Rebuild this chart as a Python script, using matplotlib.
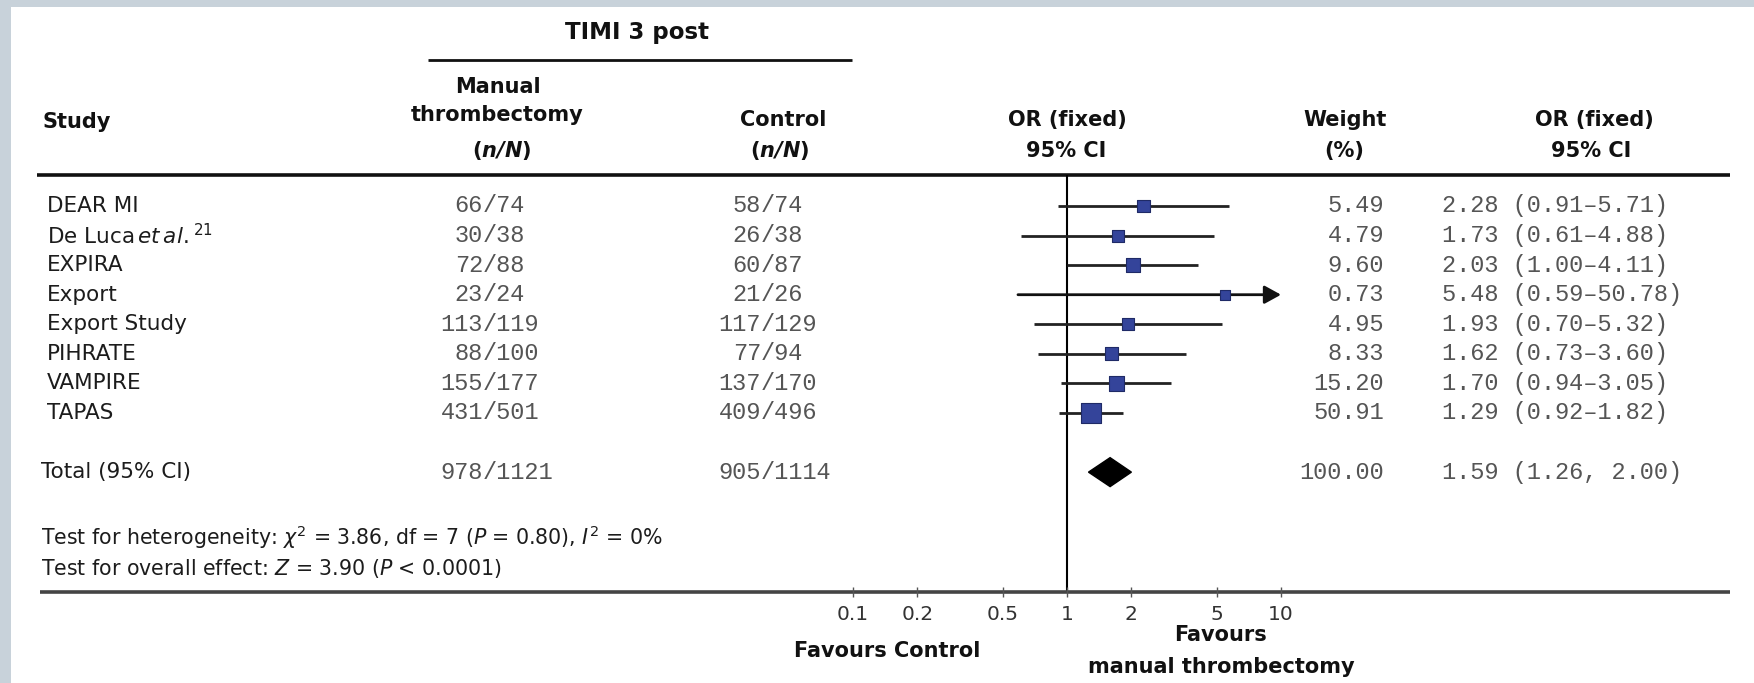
import matplotlib
matplotlib.use("Agg")
import matplotlib.pyplot as plt
from matplotlib import transforms
from matplotlib.patches import Rectangle
import numpy as np

plt.rcParams["font.family"] = ["DejaVu Sans"]
plt.rcParams["mathtext.fontset"] = "custom"
plt.rcParams["mathtext.rm"] = "DejaVu Sans"
plt.rcParams["mathtext.it"] = "DejaVu Sans:italic"
plt.rcParams["mathtext.bf"] = "DejaVu Sans:bold"
plt.rcParams["mathtext.bfit"] = "DejaVu Sans:italic:bold"

# data
studies = ["DEAR MI", r"De Luca$\,\it{et\,al.}^{21}$", "EXPIRA", "Export",
           "Export Study", "PIHRATE", "VAMPIRE", "TAPAS"]
manual_n = [66, 30, 72, 23, 113, 88, 155, 431]
manual_N = [74, 38, 88, 24, 119, 100, 177, 501]
control_n = [58, 26, 60, 21, 117, 77, 137, 409]
control_N = [74, 38, 87, 26, 129, 94, 170, 496]
weights = [5.49, 4.79, 9.60, 0.73, 4.95, 8.33, 15.20, 50.91]
or_est = [2.28, 1.73, 2.03, 5.48, 1.93, 1.62, 1.70, 1.29]
ci_lo = [0.91, 0.61, 1.00, 0.59, 0.70, 0.73, 0.94, 0.92]
ci_hi = [5.71, 4.88, 4.11, 50.78, 5.32, 3.60, 3.05, 1.82]

total_label = "Total (95% CI)"
total_manual = (978, 1121)
total_control = (905, 1114)
total_weight = 100.00
total_or, total_lo, total_hi = 1.59, 1.26, 2.00

ticks = [0.1, 0.2, 0.5, 1, 2, 5, 10]
tick_labels = ["0.1", "0.2", "0.5", "1", "2", "5", "10"]

# layout (pixels of the 1754x683 canvas)
W, H = 1754, 683
X_ONE, DECADE = 1067, 214          # pixel of OR = 1 and width of one decade
ROW0, ROWH = 206, 29.57            # first row centre and row pitch
X_MAX = 10

fig = plt.figure(figsize=(W / 100, H / 100), dpi=100)
fig.patch.set_facecolor("#c8d2da")
fig.patches.append(Rectangle((11 / W, 0), 1 - 11 / W, 1 - 7 / H, transform=fig.transFigure,
                             facecolor="white", edgecolor="none", zorder=-5))

ax = fig.add_axes([0, 0, 1, 1])
ax.set_facecolor("none")
ax.set_xscale("log")
ax.set_xlim(10 ** ((0 - X_ONE) / DECADE), 10 ** ((W - X_ONE) / DECADE))
ax.set_ylim((H - ROW0) / ROWH, (0 - ROW0) / ROWH)
ax.axis("off")

pix = transforms.Affine2D().scale(1 / W, -1 / H).translate(0, 1) + fig.transFigure
colx = ax.get_yaxis_transform()   # x in figure fraction, y in rows


def row_of(py):
    return (py - ROW0) / ROWH


SANS = dict(fontsize=15.5, color="#1c1c1c")
BOLD = dict(fontsize=15, fontweight="bold", color="#111")
MONO = dict(fontsize=17, family="Liberation Mono", color="#555")

# header
ax.text(637, 33, "TIMI 3 post", transform=pix, ha="center", va="center",
        fontsize=16.5, fontweight="bold", color="#111")
ax.plot([428, 852], [60, 60], transform=pix, color="#111", lw=2.0, solid_capstyle="butt")
ax.text(43, 122, "Study", transform=pix, ha="left", va="center", **BOLD)
ax.text(498, 87, "Manual", transform=pix, ha="center", va="center", **BOLD)
ax.text(497, 115, "thrombectomy", transform=pix, ha="center", va="center", **BOLD)
ax.text(502, 151, r"($\mathbfit{n/N}$)", transform=pix, ha="center", va="center", **BOLD)
ax.text(783, 120, "Control", transform=pix, ha="center", va="center", **BOLD)
ax.text(780, 151, r"($\mathbfit{n/N}$)", transform=pix, ha="center", va="center", **BOLD)
ax.text(1067, 120, "OR (fixed)", transform=pix, ha="center", va="center", **BOLD)
ax.text(1066, 151, "95% CI", transform=pix, ha="center", va="center", **BOLD)
ax.text(1345, 120, "Weight", transform=pix, ha="center", va="center", **BOLD)
ax.text(1344, 151, "(%)", transform=pix, ha="center", va="center", **BOLD)
ax.text(1594, 120, "OR (fixed)", transform=pix, ha="center", va="center", **BOLD)
ax.text(1591, 151, "95% CI", transform=pix, ha="center", va="center", **BOLD)
ax.plot([37, 1730], [175, 175], transform=pix, color="#111", lw=2.6, solid_capstyle="butt")

# table rows
rows = np.arange(len(studies))
total_row = len(studies) + 1
cw = 0.6 * MONO["fontsize"] * 100 / 72


def frac_cell(x_slash, r, n, N):
    ax.text((x_slash - cw / 2) / W, r, f"{n}", transform=colx, ha="right", va="center", **MONO)
    ax.text((x_slash - cw / 2) / W, r, f"/{N}", transform=colx, ha="left", va="center", **MONO)


for r, name in zip(rows, studies):
    ax.text(47 / W, r, name, transform=colx, ha="left", va="center", **SANS)
    frac_cell(490, r, manual_n[r], manual_N[r])
    frac_cell(768, r, control_n[r], control_N[r])
    ax.text(1384 / W, r, f"{weights[r]:.2f}", transform=colx, ha="right", va="center", **MONO)
    ax.text(1442 / W, r, f"{or_est[r]:.2f} ({ci_lo[r]:.2f}\u2013{ci_hi[r]:.2f})",
            transform=colx, ha="left", va="center", **MONO)

ax.text(41 / W, total_row, total_label, transform=colx, ha="left", va="center", **SANS)
frac_cell(490, total_row, *total_manual)
frac_cell(768, total_row, *total_control)
ax.text(1384 / W, total_row, f"{total_weight:.2f}", transform=colx, ha="right", va="center", **MONO)
ax.text(1442 / W, total_row, f"{total_or:.2f} ({total_lo:.2f}, {total_hi:.2f})",
        transform=colx, ha="left", va="center", **MONO)

# forest marks
ax.vlines(1, row_of(175), row_of(592), color="#000", lw=1.5, zorder=2)
for r in rows:
    hi = min(ci_hi[r], X_MAX)
    if ci_hi[r] > X_MAX:
        ax.annotate("", xy=(hi, r), xytext=(ci_lo[r], r),
                    arrowprops=dict(arrowstyle="-|>,head_length=1.0,head_width=0.55",
                                    color="#111", lw=2.0, shrinkA=0, shrinkB=0), zorder=3)
    else:
        ax.hlines(r, ci_lo[r], hi, color="#222", lw=2.0, zorder=3)
side_px = 8.6 + 1.59 * np.sqrt(weights)
ax.scatter(or_est, rows, s=(side_px * 0.72) ** 2, marker="s",
           facecolor="#34449a", edgecolor="#1f2a66", linewidth=0.8, zorder=4)
dh = 0.49
ax.fill([total_lo, total_or, total_hi, total_or],
        [total_row, total_row - dh, total_row, total_row + dh], color="#000", zorder=4)

# bottom axis
ax.plot([40, 1730], [592, 592], transform=pix, color="#444", lw=2.6, solid_capstyle="butt")
y_axis = row_of(592)
ax.vlines(ticks, y_axis - 0.17, y_axis + 0.17, color="#555", lw=1.0)
for t, lab in zip(ticks, tick_labels):
    ax.text(t, row_of(614), lab, ha="center", va="center", fontsize=14.5, color="#333")
ax.text(887, 651, "Favours Control", transform=pix, ha="center", va="center", **BOLD)
ax.text(1221, 635, "Favours", transform=pix, ha="center", va="center", **BOLD)
ax.text(1221, 667, "manual thrombectomy", transform=pix, ha="center", va="center", **BOLD)

# footer statistics
FOOT = dict(fontsize=14.8, color="#1c1c1c")
ax.text(41, 537, r"Test for heterogeneity: $\chi^2$ = 3.86, df = 7 ($\it{P}$ = 0.80), $\it{I}^2$ = 0%",
        transform=pix, ha="left", va="center", **FOOT)
ax.text(41, 568, r"Test for overall effect: $\it{Z}$ = 3.90 ($\it{P}$ < 0.0001)",
        transform=pix, ha="left", va="center", **FOOT)

fig.savefig("out.png", dpi=100, facecolor=fig.get_facecolor())
